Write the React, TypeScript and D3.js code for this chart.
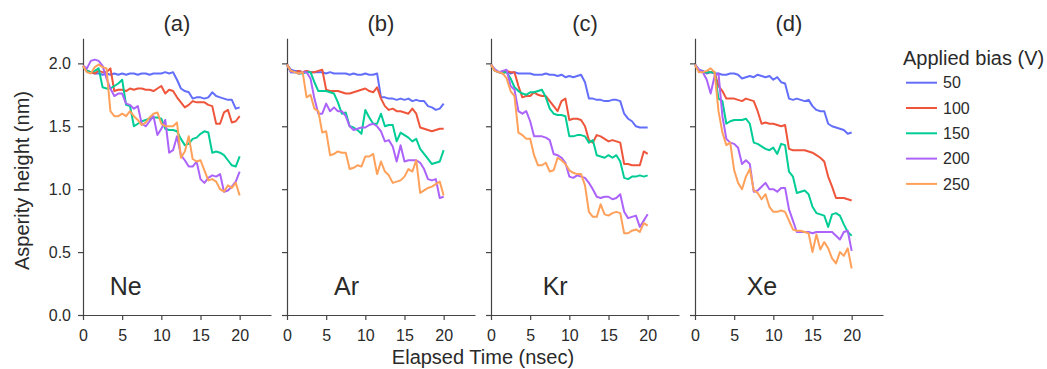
import React, { useEffect, useRef } from 'react'
import * as d3 from 'd3'

// sample times (nsec)
const TIME = [0, 0.5, 1, 1.5, 2, 2.5, 3, 3.5, 4, 4.5, 5, 5.5, 6, 6.5, 7, 7.5, 8, 8.5, 9, 9.5, 10,
  10.5, 11, 11.5, 12, 12.5, 13, 13.5, 14, 14.5, 15, 15.5, 16, 16.5, 17, 17.5, 18, 18.5, 19, 19.5, 20]

const BIAS = ['50', '100', '150', '200', '250']
const COLORS = ['#636efa', '#ef553b', '#00cc96', '#ab63fa', '#ffa15a']
const GASES = ['Ne', 'Ar', 'Kr', 'Xe']
const TITLES = ['(a)', '(b)', '(c)', '(d)']
const X_TICKS = [0, 5, 10, 15, 20]
const Y_TICKS = [0, 0.5, 1, 1.5, 2]

// asperity height (nm) — Ne
const NE_50 = [1.98, 1.94, 1.93, 1.92, 1.92, 1.91, 1.92, 1.91, 1.92, 1.91, 1.92, 1.91, 1.92, 1.92, 1.91, 1.92, 1.92, 1.91, 1.92, 1.92, 1.92,
  1.93, 1.92, 1.93, 1.87, 1.80, 1.78, 1.77, 1.72, 1.73, 1.73, 1.72, 1.73, 1.77, 1.74, 1.73, 1.72, 1.71, 1.71, 1.64, 1.65]
const NE_100 = [1.98, 1.94, 1.93, 1.92, 1.94, 1.93, 1.93, 1.96, 1.78, 1.79, 1.79, 1.78, 1.80, 1.79, 1.80, 1.80, 1.79, 1.79, 1.78, 1.80, 1.82,
  1.76, 1.79, 1.78, 1.73, 1.69, 1.65, 1.67, 1.70, 1.69, 1.69, 1.69, 1.67, 1.66, 1.52, 1.52, 1.61, 1.63, 1.53, 1.54, 1.58]
const NE_150 = [1.98, 1.94, 1.93, 1.94, 1.96, 1.81, 1.80, 1.80, 1.82, 1.84, 1.87, 1.67, 1.66, 1.50, 1.52, 1.54, 1.55, 1.56, 1.57, 1.57, 1.56,
  1.48, 1.47, 1.47, 1.46, 1.40, 1.35, 1.36, 1.40, 1.41, 1.44, 1.46, 1.45, 1.29, 1.30, 1.29, 1.27, 1.23, 1.19, 1.18, 1.26]
const NE_200 = [1.98, 1.96, 2.02, 2.03, 2.02, 1.98, 1.88, 1.80, 1.74, 1.76, 1.76, 1.68, 1.67, 1.64, 1.66, 1.52, 1.50, 1.54, 1.58, 1.43, 1.48,
  1.55, 1.29, 1.31, 1.42, 1.27, 1.23, 1.18, 1.18, 1.22, 1.08, 1.05, 1.09, 1.11, 1.10, 1.12, 0.98, 0.99, 1.02, 1.06, 1.14]
const NE_250 = [1.98, 1.93, 1.92, 1.97, 1.99, 1.97, 1.96, 1.62, 1.58, 1.58, 1.60, 1.58, 1.62, 1.58, 1.55, 1.51, 1.53, 1.57, 1.60, 1.61, 1.52,
  1.50, 1.50, 1.50, 1.53, 1.25, 1.30, 1.42, 1.24, 1.22, 1.23, 1.15, 1.07, 1.08, 1.06, 1.00, 0.98, 1.03, 1.01, 1.05, 0.95]

// Ar
const AR_50 = [1.99, 1.95, 1.94, 1.94, 1.93, 1.94, 1.93, 1.93, 1.93, 1.93, 1.92, 1.93, 1.92, 1.92, 1.92, 1.92, 1.91, 1.92, 1.91, 1.91, 1.92,
  1.91, 1.91, 1.92, 1.73, 1.73, 1.72, 1.72, 1.71, 1.72, 1.71, 1.72, 1.70, 1.71, 1.70, 1.70, 1.66, 1.65, 1.63, 1.64, 1.68]
const AR_100 = [1.99, 1.94, 1.93, 1.94, 1.93, 1.94, 1.93, 1.93, 1.94, 1.95, 1.79, 1.78, 1.78, 1.78, 1.77, 1.76, 1.76, 1.77, 1.78, 1.79, 1.80,
  1.78, 1.77, 1.81, 1.72, 1.66, 1.63, 1.64, 1.62, 1.62, 1.61, 1.60, 1.64, 1.60, 1.49, 1.48, 1.47, 1.46, 1.47, 1.48, 1.48]
const AR_150 = [1.99, 1.93, 1.93, 1.92, 1.92, 1.93, 1.93, 1.85, 1.78, 1.78, 1.78, 1.77, 1.76, 1.69, 1.60, 1.61, 1.50, 1.49, 1.47, 1.44, 1.63,
  1.57, 1.52, 1.52, 1.60, 1.50, 1.51, 1.51, 1.38, 1.45, 1.43, 1.41, 1.38, 1.40, 1.32, 1.28, 1.24, 1.20, 1.21, 1.22, 1.31]
const AR_200 = [1.99, 1.93, 1.93, 1.92, 1.93, 1.93, 1.88, 1.72, 1.60, 1.60, 1.68, 1.62, 1.65, 1.62, 1.62, 1.58, 1.50, 1.47, 1.48, 1.49, 1.49,
  1.51, 1.52, 1.50, 1.46, 1.38, 1.39, 1.34, 1.22, 1.35, 1.22, 1.23, 1.23, 1.23, 1.21, 1.16, 1.08, 1.07, 1.08, 0.93, 0.94]
const AR_250 = [1.99, 1.94, 1.93, 1.92, 1.93, 1.73, 1.75, 1.64, 1.62, 1.45, 1.46, 1.27, 1.28, 1.30, 1.29, 1.29, 1.16, 1.17, 1.19, 1.18, 1.26,
  1.26, 1.28, 1.12, 1.22, 1.14, 1.11, 1.05, 1.06, 1.07, 1.10, 1.16, 1.14, 1.23, 0.97, 0.99, 1.01, 1.02, 1.04, 1.06, 0.95]

// Kr
const KR_50 = [1.99, 1.95, 1.93, 1.93, 1.93, 1.92, 1.93, 1.92, 1.92, 1.92, 1.92, 1.91, 1.91, 1.91, 1.92, 1.91, 1.91, 1.90, 1.91, 1.89, 1.90,
  1.89, 1.90, 1.91, 1.85, 1.72, 1.72, 1.71, 1.71, 1.70, 1.70, 1.71, 1.71, 1.70, 1.60, 1.56, 1.54, 1.50, 1.49, 1.49, 1.49]
const KR_100 = [1.99, 1.94, 1.93, 1.92, 1.94, 1.93, 1.93, 1.82, 1.73, 1.74, 1.74, 1.77, 1.75, 1.74, 1.74, 1.70, 1.66, 1.62, 1.70, 1.72, 1.55,
  1.56, 1.56, 1.55, 1.50, 1.39, 1.37, 1.43, 1.42, 1.40, 1.38, 1.39, 1.38, 1.37, 1.20, 1.20, 1.19, 1.19, 1.19, 1.30, 1.28]
const KR_150 = [1.99, 1.94, 1.93, 1.93, 1.93, 1.88, 1.81, 1.78, 1.76, 1.75, 1.77, 1.77, 1.78, 1.79, 1.73, 1.64, 1.60, 1.59, 1.59, 1.58, 1.42,
  1.42, 1.43, 1.43, 1.42, 1.37, 1.39, 1.27, 1.26, 1.25, 1.27, 1.25, 1.27, 1.22, 1.09, 1.08, 1.10, 1.10, 1.11, 1.10, 1.11]
const KR_200 = [1.99, 1.95, 1.93, 1.94, 1.95, 1.82, 1.79, 1.62, 1.60, 1.62, 1.54, 1.42, 1.42, 1.42, 1.41, 1.39, 1.28, 1.27, 1.25, 1.21, 1.10,
  1.09, 1.11, 1.10, 1.09, 1.05, 1.00, 0.94, 0.93, 0.94, 0.94, 0.92, 0.93, 0.96, 0.82, 0.77, 0.78, 0.79, 0.70, 0.75, 0.80]
const KR_250 = [1.99, 1.94, 1.93, 1.92, 1.88, 1.78, 1.74, 1.45, 1.43, 1.40, 1.40, 1.27, 1.19, 1.19, 1.21, 1.14, 1.15, 1.25, 1.23, 1.20, 1.15,
  1.13, 1.12, 1.12, 1.03, 0.82, 0.78, 0.78, 0.88, 0.80, 0.79, 0.81, 0.82, 0.81, 0.65, 0.65, 0.67, 0.68, 0.66, 0.73, 0.71]

// Xe
const XE_50 = [1.99, 1.95, 1.94, 1.92, 1.93, 1.92, 1.92, 1.91, 1.91, 1.92, 1.92, 1.91, 1.88, 1.89, 1.90, 1.89, 1.91, 1.90, 1.89, 1.90, 1.87,
  1.89, 1.85, 1.84, 1.72, 1.71, 1.72, 1.71, 1.70, 1.71, 1.66, 1.63, 1.62, 1.62, 1.52, 1.50, 1.49, 1.48, 1.47, 1.44, 1.45]
const XE_100 = [1.99, 1.94, 1.93, 1.93, 1.93, 1.93, 1.82, 1.78, 1.72, 1.72, 1.72, 1.71, 1.70, 1.72, 1.71, 1.70, 1.62, 1.52, 1.53, 1.52, 1.52,
  1.51, 1.50, 1.51, 1.32, 1.31, 1.31, 1.31, 1.31, 1.30, 1.29, 1.27, 1.25, 1.22, 1.10, 1.02, 0.93, 0.93, 0.93, 0.92, 0.91]
const XE_150 = [1.99, 1.94, 1.93, 1.93, 1.93, 1.93, 1.72, 1.70, 1.52, 1.54, 1.55, 1.55, 1.55, 1.56, 1.52, 1.37, 1.36, 1.34, 1.32, 1.31, 1.33,
  1.28, 1.36, 1.35, 1.14, 1.10, 0.97, 0.98, 0.99, 0.96, 0.86, 0.81, 0.80, 0.79, 0.70, 0.80, 0.81, 0.79, 0.72, 0.66, 0.63]
const XE_200 = [1.99, 1.95, 1.93, 1.87, 1.76, 1.90, 1.92, 1.58, 1.40, 1.37, 1.36, 1.33, 1.20, 1.23, 1.20, 0.98, 0.99, 1.02, 1.05, 1.00, 1.00,
  0.98, 1.01, 1.01, 0.84, 0.75, 0.66, 0.66, 0.66, 0.66, 0.65, 0.66, 0.66, 0.66, 0.66, 0.66, 0.63, 0.60, 0.66, 0.67, 0.51]
const XE_250 = [1.99, 1.93, 1.93, 1.94, 1.96, 1.93, 1.62, 1.45, 1.35, 1.37, 1.15, 1.05, 1.00, 1.10, 1.16, 0.99, 0.97, 0.92, 0.96, 0.86, 0.82,
  0.82, 0.83, 0.82, 0.75, 0.68, 0.67, 0.67, 0.66, 0.65, 0.50, 0.64, 0.52, 0.58, 0.53, 0.45, 0.41, 0.50, 0.47, 0.53, 0.37]

const SERIES: number[][][] = [
  [NE_50, NE_100, NE_150, NE_200, NE_250],
  [AR_50, AR_100, AR_150, AR_200, AR_250],
  [KR_50, KR_100, KR_150, KR_200, KR_250],
  [XE_50, XE_100, XE_150, XE_200, XE_250],
]

const W = 1047
const H = 369
const FONT = '"Liberation Sans", Arial, Helvetica, sans-serif'
const TEXT = '#2a2a2a'
const AXIS = '#444'

// gas label anchor (in data units of each panel)
const GAS_LABEL_T = [3.4, 6.0, 6.6, 6.6]
const GAS_LABEL_V = 0.16

export default function App() {
  const ref = useRef<SVGSVGElement>(null)

  useEffect(() => {
    const svg = d3.select(ref.current)
    svg.selectAll('*').remove()

    const panelLeft = 83
    const panelStep = 204
    const panelWidth = 188

    const y = d3.scaleLinear().domain([0, 2.2]).range([315, 38.2])

    const line = (x: d3.ScaleLinear<number, number>) =>
      d3.line<number>()
        .x((_, i) => x(TIME[i]))
        .y((d) => y(d))

    GASES.forEach((gas, p) => {
      const x0 = panelLeft + p * panelStep
      const x = d3.scaleLinear().domain([0, 24]).range([x0, x0 + panelWidth])

      const g = svg.append('g')

      // x axis
      const xa = g.append('g')
        .attr('transform', `translate(0,${y(0)})`)
        .call(d3.axisBottom(x).tickValues(X_TICKS).tickSize(5).tickSizeOuter(0).tickPadding(10).tickFormat(d3.format('d')))
      // y axis
      const ya = g.append('g')
        .attr('transform', `translate(${x0},0)`)
        .call(d3.axisLeft(y).tickValues(Y_TICKS).tickSize(5).tickSizeOuter(0).tickPadding(7)
          .tickFormat(p === 0 ? d3.format('.1f') : () => ''))

      ;[xa, ya].forEach((a) => {
        a.attr('font-family', FONT).attr('font-size', 16)
        a.selectAll('path, line').attr('stroke', AXIS).attr('stroke-width', 1.2)
        a.selectAll('text').attr('fill', TEXT)
      })

      // series
      SERIES[p].forEach((vals, s) => {
        g.append('path')
          .datum(vals)
          .attr('fill', 'none')
          .attr('stroke', COLORS[s])
          .attr('stroke-width', 2)
          .attr('stroke-linejoin', 'round')
          .attr('d', line(x))
      })

      // panel title
      g.append('text')
        .attr('x', x0 + panelWidth / 2)
        .attr('y', 31)
        .attr('text-anchor', 'middle')
        .attr('font-family', FONT)
        .attr('font-size', 22)
        .attr('fill', TEXT)
        .text(TITLES[p])

      // gas label
      g.append('text')
        .attr('x', x(GAS_LABEL_T[p]))
        .attr('y', y(GAS_LABEL_V))
        .attr('font-family', FONT)
        .attr('font-size', 25)
        .attr('fill', TEXT)
        .text(gas)
    })

    // axis titles
    svg.append('text')
      .attr('transform', `translate(29,${(38 + 315) / 2 + 4}) rotate(-90)`)
      .attr('text-anchor', 'middle')
      .attr('font-family', FONT)
      .attr('font-size', 20)
      .attr('fill', TEXT)
      .text('Asperity height (nm)')

    svg.append('text')
      .attr('x', 483)
      .attr('y', 364)
      .attr('text-anchor', 'middle')
      .attr('font-family', FONT)
      .attr('font-size', 20)
      .attr('fill', TEXT)
      .text('Elapsed Time (nsec)')

    // legend
    const lg = svg.append('g').attr('transform', 'translate(903,0)')
    lg.append('text')
      .attr('x', 0)
      .attr('y', 65)
      .attr('font-family', FONT)
      .attr('font-size', 20)
      .attr('fill', TEXT)
      .text('Applied bias (V)')

    BIAS.forEach((b, i) => {
      const yy = 82.7 + i * 25.3
      lg.append('line')
        .attr('x1', 3).attr('x2', 34)
        .attr('y1', yy).attr('y2', yy)
        .attr('stroke', COLORS[i])
        .attr('stroke-width', 2)
      lg.append('text')
        .attr('x', 40)
        .attr('y', yy)
        .attr('dy', '0.35em')
        .attr('font-family', FONT)
        .attr('font-size', 16)
        .attr('fill', TEXT)
        .text(b)
    })
  }, [])

  return (
    <svg ref={ref} width={W} height={H} viewBox={`0 0 ${W} ${H}`}
      style={{ position: 'absolute', left: 0, top: 0, background: '#fff' }} />
  )
}
